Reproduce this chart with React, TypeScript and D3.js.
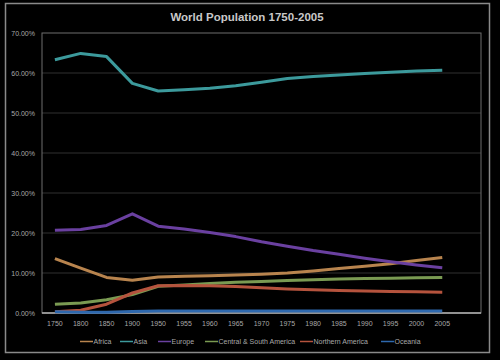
import React from "react";
import * as d3 from "d3";

const years = ["1750","1800","1850","1900","1950","1955","1960","1965","1970","1975","1980","1985","1990","1995","2000","2005",""];
const yTicks = [0, 10, 20, 30, 40, 50, 60, 70];

const africa = [13.6, 11.2, 8.9, 8.2, 9.0, 9.2, 9.3, 9.5, 9.7, 10.0, 10.5, 11.1, 11.7, 12.3, 13.1, 13.9];
const asia = [63.3, 64.9, 64.1, 57.4, 55.5, 55.8, 56.2, 56.8, 57.7, 58.6, 59.1, 59.5, 59.9, 60.2, 60.5, 60.7];
const europe = [20.7, 20.9, 21.9, 24.8, 21.7, 21.0, 20.1, 19.1, 17.8, 16.7, 15.6, 14.7, 13.7, 12.8, 12.0, 11.3];
const latam = [2.2, 2.5, 3.3, 4.6, 6.7, 7.0, 7.4, 7.7, 7.9, 8.1, 8.3, 8.5, 8.6, 8.7, 8.8, 8.9];
const northAm = [0.3, 0.7, 2.2, 5.0, 6.8, 6.9, 6.8, 6.6, 6.3, 6.0, 5.8, 5.6, 5.5, 5.4, 5.3, 5.2];
const oceania = [0.3, 0.2, 0.2, 0.4, 0.5, 0.5, 0.5, 0.5, 0.5, 0.5, 0.5, 0.5, 0.5, 0.5, 0.5, 0.5];

const seriesNames = ["Africa", "Asia", "Europe", "Central & South America", "Northern America", "Oceania"];
const seriesData = [africa, asia, europe, latam, northAm, oceania];
const seriesColors = ["#b8844e", "#3c9a9c", "#6a40a0", "#7a9a52", "#b5533d", "#2e68ad"];

const W = 500, H = 360;
const L = 42, R = 481, T = 33, B = 313;

export default function App() {
  const x = d3.scaleBand<string>().domain(years.map((y, i) => String(i))).range([L, R]);
  const y = d3.scaleLinear().domain([0, 70]).range([B, T]);
  const cx = (i: number) => (x(String(i)) as number) + x.bandwidth() / 2;
  const line = d3.line<number>().x((_, i) => cx(i)).y((d) => y(d));
  const legendX = [80, 120, 158, 205, 300, 381];
  const font = "Liberation Sans, Arial, sans-serif";
  return (
    <svg width={W} height={H} style={{ position: "absolute", left: 0, top: 0, background: "#000" }}>
      <rect x={0} y={0} width={W} height={H} fill="#000" />
      <rect x={5.5} y={3.5} width={484} height={349} fill="#000" stroke="#8a8a8a" strokeWidth={1.5} />
      <text x={247} y={21} textAnchor="middle" fill="#c8c8c8" fontFamily={font} fontSize={11.5} fontWeight="bold">World Population 1750-2005</text>
      {yTicks.map((t) => (
        <g key={t}>
          {t > 0 && t < 70 && <line x1={L} x2={R} y1={y(t)} y2={y(t)} stroke="#303030" strokeWidth={1} />}
          <text x={35} y={y(t) + 2.5} textAnchor="end" fill="#a8a8a8" fontFamily={font} fontSize={7}>{t.toFixed(2) + "%"}</text>
        </g>
      ))}
      <rect x={L} y={T} width={R - L} height={B - T} fill="none" stroke="#6e6e6e" strokeWidth={1} />
      <line x1={L} x2={R} y1={B} y2={B} stroke="#b0b0b0" strokeWidth={1.5} />
      {years.map((yr, i) => (
        <text key={i} x={cx(i)} y={326} textAnchor="middle" fill="#a8a8a8" fontFamily={font} fontSize={7}>{yr}</text>
      ))}
      {seriesData.map((s, k) => (
        <path key={k} d={line(s) as string} fill="none" stroke={seriesColors[k]} strokeWidth={3} strokeLinejoin="round" />
      ))}
      {seriesNames.map((n, k) => (
        <g key={n}>
          <line x1={legendX[k]} x2={legendX[k] + 13} y1={341.5} y2={341.5} stroke={seriesColors[k]} strokeWidth={1.5} />
          <text x={legendX[k] + 13.5} y={344} fill="#a8a8a8" fontFamily={font} fontSize={7}>{n}</text>
        </g>
      ))}
    </svg>
  );
}
